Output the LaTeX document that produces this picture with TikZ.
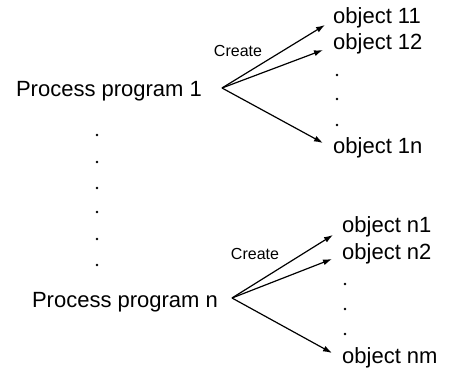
\documentclass[tikz,border=0pt]{standalone}
\usepackage{fontspec}
\setmainfont{Liberation Sans}
\usetikzlibrary{arrows.meta}
\begin{document}
\begin{tikzpicture}[x=1pt,y=-1pt,
  proc/.style={anchor=base,inner sep=0pt,font=\fontsize{22}{24}\selectfont},
  obj/.style={anchor=base west,inner sep=0pt,font=\fontsize{22}{24}\selectfont},
  lbl/.style={anchor=base,inner sep=0pt,font=\fontsize{16}{18}\selectfont},
  creates/.style={line width=1.2pt,-{Latex[length=9pt,width=6pt]}},
  dot/.style={fill=black,draw=none}]
\useasboundingbox (0,0) rectangle (449,371);

% first process program and its objects
\node[proc] (p1) at (109,97) {Process program 1};
\node[obj] (o11) at (333,24) {object 11};
\node[obj] (o12) at (333,50) {object 12};
\node[obj] (o1n) at (333,154) {object 1n};
\node[lbl] (c1) at (238,57) {Create};
\coordinate (s1) at (222,88);
\coordinate (t11) at (325,25);
\coordinate (t12) at (323,50);
\coordinate (t1n) at (323,143);
\draw[creates] (s1) -- (t11);
\draw[creates] (s1) -- (t12);
\draw[creates] (s1) -- (t1n);
\foreach \y in {75,99,125} \fill[dot] (337,\y) circle (1.3);

% vertical ellipsis between the programs
\foreach \y in {135,162,188,212,239,265} \fill[dot] (97,\y) circle (1.3);

% last process program and its objects
\node[proc] (pn) at (125,307) {Process program n};
\node[obj] (on1) at (342,233) {object n1};
\node[obj] (on2) at (342,259) {object n2};
\node[obj] (onm) at (342,363) {object nm};
\node[lbl] (c2) at (255,259) {Create};
\coordinate (s2) at (232,298);
\coordinate (tn1) at (333,235);
\coordinate (tn2) at (332,259);
\coordinate (tnm) at (332,353);
\draw[creates] (s2) -- (tn1);
\draw[creates] (s2) -- (tn2);
\draw[creates] (s2) -- (tnm);
\foreach \y in {284,309,334} \fill[dot] (345,\y) circle (1.3);
\end{tikzpicture}
\end{document}
